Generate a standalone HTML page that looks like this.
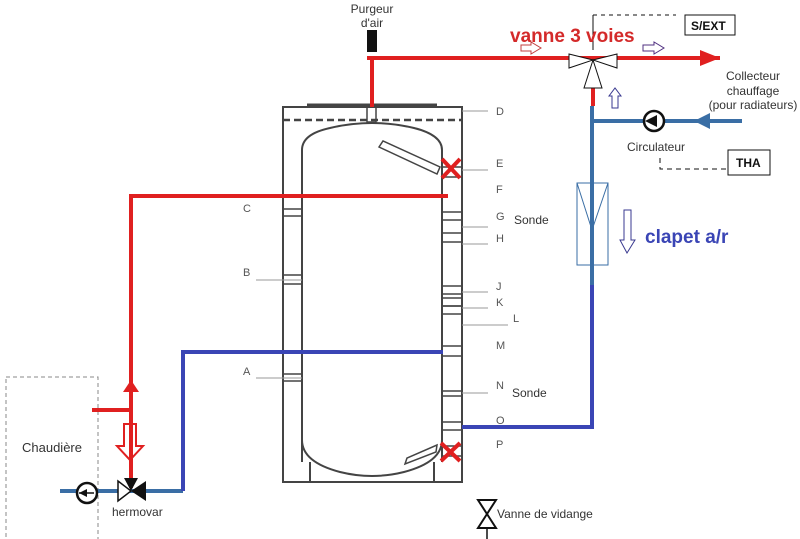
<!DOCTYPE html>
<html><head><meta charset="utf-8"><style>
html,body{margin:0;padding:0;background:#fff;}
svg{display:block;font-family:"Liberation Sans",sans-serif;}
</style></head><body>
<svg width="800" height="539" viewBox="0 0 800 539" xmlns="http://www.w3.org/2000/svg">
<rect width="800" height="539" fill="#fff"/>
<!-- Chaudiere box -->
<rect x="6" y="377" width="92" height="170" fill="none" stroke="#888" stroke-dasharray="4,3"/>
<text x="22" y="452" font-size="13" fill="#333">Chaudière</text>

<!-- tank -->
<g stroke="#444" fill="none" stroke-width="2">
<rect x="283" y="107" width="179" height="375"/>
<line x1="307" y1="105" x2="437" y2="105" stroke-width="3"/>
<line x1="283" y1="120" x2="462" y2="120" stroke-dasharray="7,4" stroke-width="2.5"/>
<path d="M302,462 L302,150 Q302,134 330,128 Q372,118 414,128 Q442,135 442,150 L442,462"/>
<path d="M302,440 Q302,462 340,472 Q372,480 404,472 Q442,462 442,440"/>
<line x1="310" y1="462" x2="310" y2="482"/>
<line x1="434" y1="462" x2="434" y2="482"/>
<rect x="367" y="107" width="9" height="15" stroke-width="1.5"/>
<path d="M379,147 L383,141 L440,167 L437,174 Z" stroke-width="1.5"/>
<path d="M407,458 L405,464 L436,452 L437,445 Z" stroke-width="1.5"/>
</g>
<!-- right side nozzles -->
<g stroke="#444" stroke-width="1.5" fill="none">
<rect x="442" y="167" width="20" height="10"/>
<rect x="442" y="212" width="20" height="8"/>
<rect x="442" y="233" width="20" height="9"/>
<rect x="442" y="286" width="20" height="8"/>
<rect x="442" y="298" width="20" height="8"/>
<rect x="442" y="306" width="20" height="8"/>
<rect x="442" y="346" width="20" height="10"/>
<rect x="442" y="391" width="20" height="5"/>
<rect x="442" y="422" width="20" height="8"/>
<rect x="442" y="446" width="20" height="10"/>
<rect x="283" y="209" width="19" height="7"/>
<rect x="283" y="275" width="19" height="9"/>
<rect x="283" y="374" width="19" height="7"/>
</g>
<!-- letter labels -->
<g font-size="11" fill="#555">
<text x="496" y="115">D</text><text x="496" y="167">E</text><text x="496" y="193">F</text>
<text x="496" y="220">G</text><text x="496" y="242">H</text><text x="496" y="290">J</text>
<text x="496" y="306">K</text><text x="513" y="322">L</text><text x="496" y="349">M</text>
<text x="496" y="389">N</text><text x="496" y="424">O</text><text x="496" y="448">P</text>
<text x="243" y="212">C</text><text x="243" y="276">B</text><text x="243" y="375">A</text>
</g>
<g font-size="12" fill="#333"><text x="514" y="224">Sonde</text><text x="512" y="397">Sonde</text></g>
<g stroke="#999" stroke-width="1">
<line x1="462" y1="111" x2="488" y2="111"/><line x1="462" y1="170" x2="488" y2="170"/>
<line x1="462" y1="227" x2="488" y2="227"/><line x1="462" y1="244" x2="488" y2="244"/>
<line x1="462" y1="292" x2="488" y2="292"/><line x1="462" y1="308" x2="488" y2="308"/>
<line x1="462" y1="325" x2="508" y2="325"/><line x1="462" y1="393" x2="488" y2="393"/>
<line x1="256" y1="280" x2="302" y2="280"/><line x1="256" y1="378" x2="302" y2="378"/>
</g>

<!-- red pipes -->
<g stroke="#e02020" stroke-width="4" fill="none">
<line x1="367" y1="58" x2="720" y2="58"/>
<line x1="372" y1="58" x2="372" y2="107"/>
<line x1="131" y1="196" x2="448" y2="196"/>
<line x1="131" y1="194" x2="131" y2="488"/>
<line x1="92" y1="410" x2="131" y2="410"/>
<line x1="593" y1="65" x2="593" y2="106"/>
</g>
<polygon points="700,50 720,58 700,66" fill="#e02020"/>
<polygon points="123,392 131,380 139,392" fill="#e02020"/>
<polygon points="124,424 136,424 136,446 143,446 130,460 117,446 124,446" fill="none" stroke="#e02020" stroke-width="2"/>
<!-- purgeur -->
<rect x="367" y="30" width="10" height="22" fill="#111"/>
<text x="372" y="13" font-size="12" fill="#333" text-anchor="middle">Purgeur</text>
<text x="372" y="27" font-size="12" fill="#333" text-anchor="middle">d'air</text>

<!-- blue pipes -->
<g stroke="#3a6ea5" stroke-width="4" fill="none">
<line x1="592" y1="106" x2="592" y2="285"/>
<line x1="592" y1="121" x2="742" y2="121"/>
<line x1="60" y1="491" x2="183" y2="491"/>
</g>
<g stroke="#3a45b5" stroke-width="4" fill="none">
<polyline points="592,285 592,427 462,427"/>
<polyline points="183,491 183,352 443,352"/>
</g>
<polygon points="710,113 694,121 710,129" fill="#3a6ea5"/>
<circle cx="654" cy="121" r="10" fill="#fff" stroke="#111" stroke-width="2.5"/>
<polygon points="645,121 657,115 657,127" fill="#111"/>
<text x="627" y="151" font-size="12" fill="#333">Circulateur</text>
<circle cx="87" cy="493" r="10" fill="#fff" stroke="#111" stroke-width="2.5"/>
<line x1="79" y1="493" x2="94" y2="493" stroke="#111" stroke-width="1.5"/>
<polygon points="79,493 87,489 87,497" fill="#111"/>
<!-- hermovar -->
<polygon points="118,481 118,501 131,491" fill="#fff" stroke="#111" stroke-width="1.5"/>
<polygon points="131,491 146,481 146,501" fill="#111"/>
<polygon points="124,478 138,478 131,491" fill="#111"/>
<text x="112" y="516" font-size="12" fill="#333">hermovar</text>

<!-- vanne 3 voies -->
<g fill="#fff" stroke="#111" stroke-width="1">
<polygon points="569,54 593,60 569,68"/>
<polygon points="617,54 593,60 617,68"/>
<polygon points="584,88 602,88 593,60"/>
</g>
<line x1="593" y1="15" x2="593" y2="50" stroke="#111"/>
<line x1="593" y1="15" x2="676" y2="15" stroke="#111" stroke-dasharray="4,4"/>
<text x="510" y="42" font-size="19" font-weight="bold" fill="#d42a2a">vanne 3 voies</text>
<polygon points="521,45 531,45 531,42 541,48 531,54 531,51 521,51" fill="#fff" stroke="#c04040"/>
<polygon points="643,45 654,45 654,42 664,48 654,54 654,51 643,51" fill="#fff" stroke="#503080"/>
<polygon points="612,108 612,96 609,96 615,88 621,96 618,96 618,108" fill="#fff" stroke="#3a3a90"/>
<rect x="685" y="15" width="50" height="20" fill="#fff" stroke="#111"/>
<text x="691" y="30" font-size="12" font-weight="bold" fill="#111">S/EXT</text>
<text x="753" y="80" font-size="12" fill="#333" text-anchor="middle">Collecteur</text>
<text x="753" y="95" font-size="12" fill="#333" text-anchor="middle">chauffage</text>
<text x="753" y="109" font-size="12" fill="#333" text-anchor="middle">(pour radiateurs)</text>
<rect x="728" y="150" width="42" height="25" fill="#fff" stroke="#111"/>
<text x="736" y="167" font-size="12" font-weight="bold" fill="#111">THA</text>
<polyline points="660,158 660,169 728,169" fill="none" stroke="#111" stroke-dasharray="5,4"/>

<!-- clapet -->
<rect x="577" y="183" width="31" height="82" fill="none" stroke="#3a6ea5" stroke-width="1"/>
<polyline points="577,183 592,230 608,183" fill="none" stroke="#3a6ea5" stroke-width="1"/>
<polygon points="624,210 631,210 631,240 635,240 627,253 620,240 624,240" fill="#fff" stroke="#3a3a90"/>
<text x="645" y="243" font-size="19" font-weight="bold" fill="#3a45b5">clapet a/r</text>

<!-- X marks -->
<g stroke="#e02020" stroke-width="4">
<line x1="442" y1="159" x2="460" y2="178"/><line x1="460" y1="159" x2="442" y2="178"/>
<line x1="441" y1="443" x2="460" y2="461"/><line x1="460" y1="443" x2="441" y2="461"/>
</g>

<!-- vanne de vidange -->
<line x1="487" y1="505" x2="487" y2="539" stroke="#111" stroke-width="1.5"/>
<polygon points="478,500 496,500 487,514 478,528 496,528 487,514" fill="#fff" stroke="#111" stroke-width="2"/>
<text x="497" y="518" font-size="12" fill="#333">Vanne de vidange</text>
</svg>
</body></html>
